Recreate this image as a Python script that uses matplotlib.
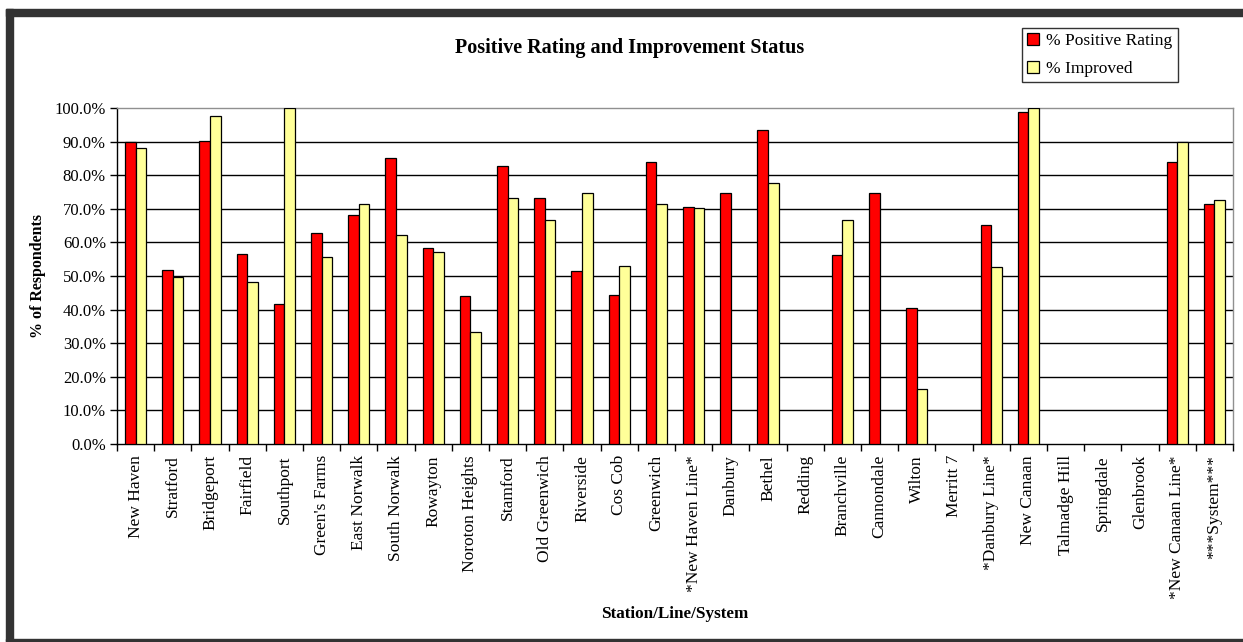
import numpy as np
import matplotlib
matplotlib.use("Agg")
import matplotlib.pyplot as plt
from matplotlib.patches import Rectangle
from matplotlib.ticker import FixedLocator, FuncFormatter

plt.rcParams['font.family'] = ['Liberation Serif', 'DejaVu Serif']

stations = ['New Haven', 'Stratford', 'Bridgeport', 'Fairfield', 'Southport',
            "Green's Farms", 'East Norwalk', 'South Norwalk', 'Rowayton',
            'Noroton Heights', 'Stamford', 'Old Greenwich', 'Riverside', 'Cos Cob',
            'Greenwich', '*New Haven Line*', 'Danbury', 'Bethel', 'Redding',
            'Branchville', 'Cannondale', 'Wilton', 'Merritt 7', '*Danbury Line*',
            'New Canaan', 'Talmadge Hill', 'Springdale', 'Glenbrook',
            '*New Canaan Line*', '***System***']

nan = np.nan
positive = [89.8, 51.8, 90.2, 56.5, 41.7, 62.8, 68.3, 85.1, 58.4, 43.9,
            82.6, 73.3, 51.4, 44.3, 83.9, 70.5, 74.8, 93.6, nan, 56.2,
            74.8, 40.4, nan, 65.1, 98.8, nan, nan, nan, 84.0, 71.3]
improved = [88.2, 49.8, 97.7, 48.3, 100.0, 55.8, 71.3, 62.3, 57.2, 33.3,
            73.3, 66.7, 74.8, 53.1, 71.3, 70.2, nan, 77.6, nan, 66.7,
            nan, 16.5, nan, 52.6, 100.0, nan, nan, nan, 89.8, 72.6]

fig = plt.figure(figsize=(12.43, 6.42), dpi=100)
ax = fig.add_axes([117/1243, 1 - 444/642, (1233 - 117)/1243, (444 - 108)/642])

x = np.arange(len(stations))
w = 1 / 3.5
ax.bar(x - w/2, positive, w, color='#FF0000', edgecolor='black', linewidth=0.9,
       label='% Positive Rating', zorder=3)
ax.bar(x + w/2, improved, w, color='#FFFF99', edgecolor='black', linewidth=0.9,
       label='% Improved', zorder=3)

ax.set_xlim(-0.5, len(stations) - 0.5)
ax.set_ylim(0, 100)

# gridlines in black, plot area border gray
for g in range(10, 100, 10):
    ax.axhline(g, color='black', linewidth=1.0, zorder=1)
ax.spines['top'].set_color('#909090')
ax.spines['right'].set_color('#909090')
ax.spines['left'].set_color('black')
ax.spines['bottom'].set_color('black')
for s in ax.spines.values():
    s.set_linewidth(1.0)

ax.yaxis.set_major_locator(FixedLocator(np.arange(0, 101, 10)))
ax.yaxis.set_major_formatter(FuncFormatter(lambda v, p: f"{v:.1f}%"))
ax.tick_params(axis='y', direction='out', length=5, width=1, labelsize=12, pad=3)

ax.set_xticks(x)
ax.set_xticklabels(stations, rotation=90, fontsize=12.5)
ax.tick_params(axis='x', which='major', length=0, pad=8)
ax.set_xticks(np.arange(-0.5, len(stations)), minor=True)
ax.tick_params(axis='x', which='minor', direction='out', length=5, width=1)

fig.text(630/1243, 1 - 48/642, 'Positive Rating and Improvement Status',
         ha='center', va='center', fontsize=14.5, fontweight='bold')
fig.text(38/1243, 1 - 276/642, '% of Respondents', rotation=90,
         ha='center', va='center', fontsize=11.5, fontweight='bold')
fig.text(675/1243, 1 - 614/642, 'Station/Line/System',
         ha='center', va='center', fontsize=12.3, fontweight='bold')

leg = fig.legend(loc='upper left', bbox_to_anchor=(1022/1243, 1 - 28/642),
                 frameon=True, fancybox=False, edgecolor='black', fontsize=12.5,
                 handlelength=0.7, handleheight=0.7, handletextpad=0.4,
                 borderpad=0.3, labelspacing=0.65, borderaxespad=0)
leg.get_frame().set_linewidth(1.0)

# dark page frame
fig.patches.append(Rectangle((6/1243, 0), 7/1243, 1 - 9/642, transform=fig.transFigure,
                             color='#333333', zorder=0))
fig.patches.append(Rectangle((6/1243, 1 - 16/642), 1, 7/642, transform=fig.transFigure,
                             color='#333333', zorder=0))
fig.patches.append(Rectangle((6/1243, 1/642), 1, 2/642, transform=fig.transFigure,
                             color='#333333', zorder=0))

fig.savefig('out.png', dpi=100)
